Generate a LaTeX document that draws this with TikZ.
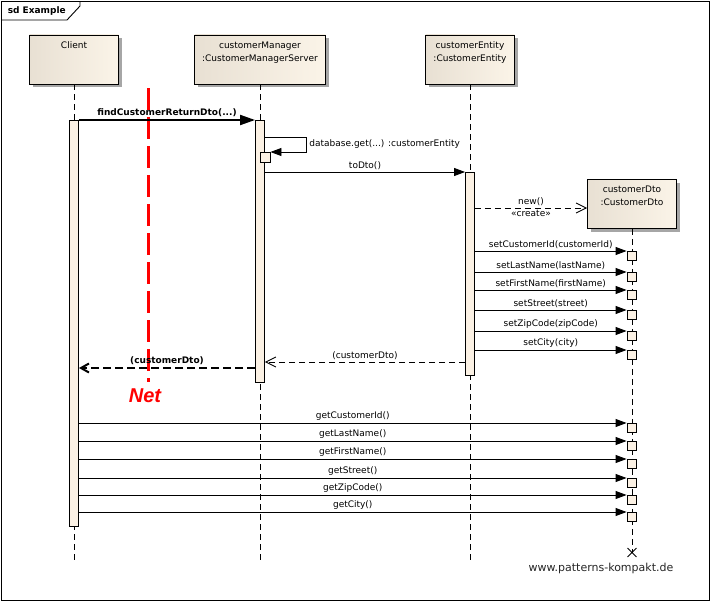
\documentclass[tikz,border=0pt]{standalone}
\usepackage{fontspec}
\setmainfont{DejaVu Sans}
\newfontfamily\netfont{Liberation Sans}
\usepackage{tikz}
\usetikzlibrary{arrows.meta, shadows, shapes.misc}

\definecolor{headleft}{RGB}{232,224,211}
\definecolor{headright}{RGB}{251,244,232}
\definecolor{actfill}{RGB}{251,241,228}
\newcommand{\headlabel}[2][80pt]{\parbox[c][36pt][t]{#1}{\centering #2}}

\begin{document}
\begin{tikzpicture}[
    x=1pt, y=-1pt, line width=0.9pt,
    font=\fontsize{9}{13}\selectfont,
    head/.style={draw, inner sep=0pt, minimum width=89pt, minimum height=49pt, left color=headleft, right color=headright,
        drop shadow={shadow xshift=3pt, shadow yshift=-3pt, fill=black!35, opacity=1}},
    act/.style={draw, fill=actfill, inner sep=0pt, minimum width=9pt, anchor=north},
    slot/.style={draw, fill=actfill, inner sep=0pt, minimum size=9pt, anchor=north},
    life/.style={dash pattern=on 6pt off 4pt},
    call/.style={-{Triangle[length=11pt, width=8pt]}},
    reply/.style={dash pattern=on 6pt off 4pt, -{Straight Barb[length=10pt, width=10pt]}},
    msg/.style={above, inner sep=2pt},
]
\useasboundingbox (0,0) rectangle (711,602);
\fill[white] (0,0) rectangle (711,602);

% frame
\draw (1.5,1.5) rectangle (709.5,600.5);
\draw (1.5,20) -- (67,20) -- (80,6) -- (80,1.5);
\node[anchor=west] (title) at (4,11) {\textbf{sd Example}};

% lifeline heads
\node[head] (client) at (74,59.5) {\headlabel{Client}};
\node[head, minimum width=131pt] (mgr) at (260,59.5) {\headlabel[126pt]{customerManager\\:CustomerManagerServer}};
\node[head] (entity) at (470,59.5) {\headlabel{customerEntity\\:CustomerEntity}};
\node[head] (dto) at (632,204) {\headlabel{customerDto\\:CustomerDto}};

% lifelines
\coordinate (bottom) at (0,562);
\node[cross out, draw, minimum size=8pt, inner sep=0pt] (dto-end) at (632,552.5) {};
\draw[life] (client.south) -- (client.south |- bottom);
\draw[life] (mgr.south) -- (mgr.south |- bottom);
\draw[life] (entity.south) -- (entity.south |- bottom);
\draw[life] (dto.south) -- (dto-end.center);

% activations
\node[act, minimum height=406pt] (act-client) at (74,120) {};
\node[act, minimum height=262pt] (act-mgr) at (260,120) {};
\node[slot, minimum size=10pt] (nest) at (265,152) {};
\node[act, minimum height=203pt] (act-entity) at (470,172) {};
\foreach \y [count=\i] in {251,272,290,310,331,350}
    \node[slot] (s\i) at (631.5,\y) {};
\foreach \y [count=\i] in {423,441,459,478,495,512}
    \node[slot] (g\i) at (631.5,\y) {};

% network boundary
\draw[red, line width=3pt, dash pattern=on 22pt off 7pt] (148,88) -- (148,382);
\node[text=red, font=\netfont\fontsize{20}{22}\selectfont\bfseries\itshape] (net) at (145,396) {Net};

% messages
\draw[call, line width=2pt, -{Triangle[length=15pt, width=10pt]}] (act-client.north east) -- node[msg] (l-find) {\textbf{findCustomerReturnDto(...)}} (act-mgr.north west);
\coordinate (self) at (0,137);
\draw[call] (act-mgr.east |- self) -- ++(41,0) |- node[pos=0.25, right, inner sep=3pt] (l-db) {database.get(...) :customerEntity} (nest.north east);
\draw[call] (act-mgr.east |- act-entity.north) -- node[msg] (l-todto) {toDto()} (act-entity.north west);
\coordinate (mk) at (0,208);
\draw[reply] (act-entity.east |- mk) -- node[msg] (l-new) {new()} node[below, inner sep=2pt] (l-create) {«create»} (dto.west |- mk);
\foreach \t [count=\i] in {{setCustomerId(customerId)}, {setLastName(lastName)}, {setFirstName(firstName)}, {setStreet(street)}, {setZipCode(zipCode)}, {setCity(city)}}
    \draw[call] (act-entity.east |- s\i.north) -- node[msg] (l-set\i) {\t} (s\i.north west);
\coordinate (ret1) at (0,362);
\coordinate (ret2) at (0,368);
\draw[reply] (act-entity.west |- ret1) -- node[msg] (l-ret1) {(customerDto)} (act-mgr.east |- ret1);
\draw[reply, line width=2pt, dash pattern=on 8pt off 4pt, -{Straight Barb[length=8pt, width=9pt]}] (act-mgr.west |- ret2) -- node[msg] (l-ret2) {\textbf{(customerDto)}} (act-client.east |- ret2);
\foreach \t [count=\i] in {{getCustomerId()}, {getLastName()}, {getFirstName()}, {getStreet()}, {getZipCode()}, {getCity()}}
    \draw[call] (act-client.east |- g\i.north) -- node[msg] (l-get\i) {\t} (g\i.north west);

\node[font=\fontsize{11}{13}\selectfont, text=black!85] (site) at (601,568) {www.patterns-kompakt.de};
\end{tikzpicture}
\end{document}
